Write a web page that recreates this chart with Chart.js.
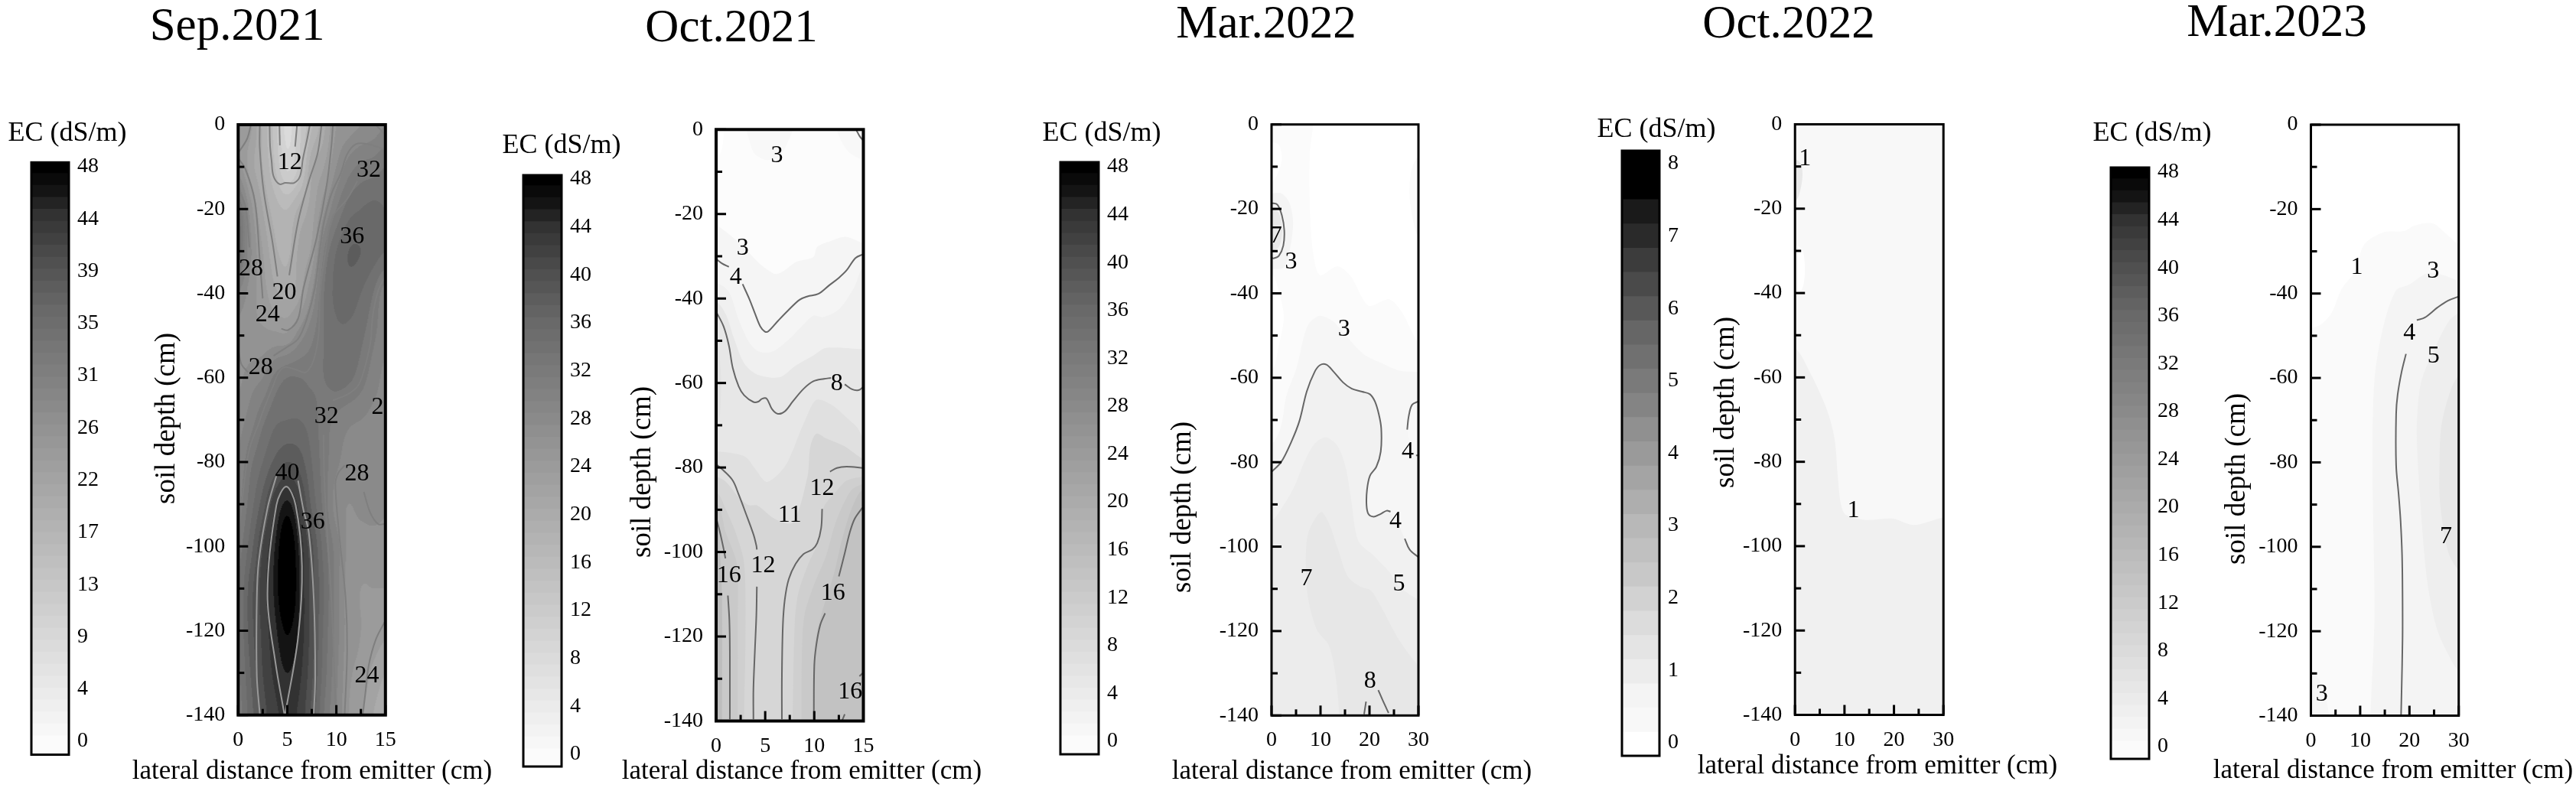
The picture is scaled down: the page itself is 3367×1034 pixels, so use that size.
<!DOCTYPE html>
<html>
<head>
<meta charset="utf-8">
<title>EC profiles</title>
<script src="https://cdn.jsdelivr.net/npm/chart.js@4/dist/chart.umd.js"></script>
<style>
    html, body { margin: 0; background: #fff; }
    canvas { position: absolute; left: 0; top: 0; }
</style>
</head>
<body>
<div id="page"></div>
<script>
const pageW = 3367
const pageH = 1034
const serif = '"Liberation Serif", "Times New Roman", serif'

const monthTitles = ['Sep.2021', 'Oct.2021', 'Mar.2022', 'Oct.2022', 'Mar.2023']
const xAxisName = 'lateral distance from emitter (cm)'
const yAxisName = 'soil depth (cm)'
const barName = 'EC (dS/m)'

// colorbar tick labels, bottom to top
const barTicks11 = ['0', '4', '9', '13', '17', '22', '26', '31', '35', '39', '44', '48']
const barTicks48 = ['0', '4', '8', '12', '16', '20', '24', '28', '32', '36', '40', '44', '48']
const barTicks8 = ['0', '1', '2', '3', '4', '5', '6', '7', '8']

// gray of the 48 dS/m colour scale
const grayStops = [[0, 251], [12, 203], [24, 155], [36, 105], [40, 80], [44, 50], [46, 20], [48, 0]]
const barLevels48 = [0, 1, 2, 3, 4, 5, 6, 7, 8, 9, 10, 11, 12, 13, 14, 15, 16, 17, 18, 19, 20, 21, 22, 23, 24,
    25, 26, 27, 28, 29, 30, 31, 32, 33, 34, 35, 36, 37, 38, 39, 40, 41, 42, 43, 44, 45, 46, 47, 48]
// the Oct.2022 bar has 25 visible steps
const barGrays8 = [255, 248, 244, 236, 228, 220, 210, 200, 192, 184, 174, 164, 154, 144, 132, 122, 112, 102,
    88, 74, 60, 42, 26, 0, 0]

// Sep.2021 is read as a value grid, the bands are too many to trace
const sep21X = [0, 1.25, 2.5, 3.75, 5, 6.25, 7.5, 8.75, 10, 11.25, 12.5, 13.75, 15]
const sep21Depth = [0, -10, -20, -30, -40, -50, -60, -70, -80, -90, -100, -110, -120, -130, -140]
const sep21Ec = [
    [25, 23.5, 18.5, 14, 8, 12.5, 16.7, 20.5, 25, 26, 27, 27.8, 29],
    [26, 22, 19, 15, 10.5, 13.5, 20.5, 23, 27, 30, 31.5, 32, 33],
    [33, 26, 21, 18, 17, 19.5, 22, 26.5, 31, 34, 35, 35.5, 35],
    [34, 27.5, 23, 19.5, 18.5, 21.5, 23.5, 31, 35, 37, 37, 36, 35],
    [29, 26, 24, 21.5, 20.5, 22.5, 27, 33, 35.5, 36, 35, 33, 30],
    [26, 25.5, 25.5, 25.5, 25.5, 28, 30.5, 33, 34.5, 34.5, 33.5, 31.5, 29.5],
    [26.5, 28, 29, 31.5, 33, 33, 32.5, 33, 34, 33.5, 32, 30, 28.5],
    [28, 30, 32.5, 34.5, 35, 35, 34, 32, 30.5, 29.5, 29, 28.5, 28.5],
    [29.5, 32.5, 35, 37.5, 39, 38, 35, 32, 29.5, 28, 27.5, 28.5, 29],
    [30.5, 34, 38, 42.5, 45.5, 42, 36.5, 32.3, 28, 27, 27.5, 28, 27.5],
    [32, 36, 41, 45, 50, 44.5, 39.5, 34, 30, 26.5, 26, 26, 26],
    [33, 38, 42, 45.5, 51, 45, 40, 35, 30, 26, 25, 25, 25],
    [33, 38, 41.5, 44.5, 47.3, 44.5, 40, 34.5, 30, 26, 25, 24.5, 23.5],
    [32.5, 37, 41, 43.5, 45, 43.5, 39.5, 34, 29.5, 25.5, 24.5, 22.5, 21],
    [32, 36, 40, 42.5, 43.5, 42.5, 38.5, 33, 29, 25, 23.5, 21, 20]
]
const sep21Lines = [
    [4.2, 0, 4.25, -4.9],
    [6, 0, 5.8, -5.2],
    [3.2, 0, 3.25, -5, 3.4, -8.5, 3.6, -12.2, 4.2, -14.1, 4.8, -13.8, 5.7, -13.8, 6.3, -12.2, 6.6, -8, 7, -3.7, 7.3, 0],
    [2.2, 0, 2.2, -5.5, 2.6, -15.8, 3.5, -27.9, 4, -36],
    [8.5, 0, 8.1, -6.7, 7.2, -13.4, 6.1, -23, 5.2, -35.7],
    [9.65, 0, 9.5, -4.9, 9, -14.6, 8, -26.7, 6.65, -38.8, 6.1, -46, 5.1, -48.7, 4.4, -48.4],
    [14.9, -5.8, 13.2, -4.6, 12, -4.6, 11.1, -7, 10.45, -11.5, 9.5, -16.4, 8.75, -23, 8.35, -29.1, 7.8, -38.8, 7, -46, 6.1, -50.8, 4.8, -53, 3.6, -54.8],
    [12.15, -13.4, 11.1, -17.6, 9.65, -21.8, 9, -28.5, 8.35, -40, 8.2, -49.6, 7.7, -55.7, 6.9, -58.7, 5.9, -58.1, 4.8, -57.5, 4.15, -58.7, 3.5, -62.3, 2.45, -68.4, 2.2, -70.2, 1.15, -76.9, 0.6, -85.3, 0.05, -96.8],
    [0, -6.7, 0.9, -3.4, 1.3, 0],
    [0, -7.9, 0.75, -10.6, 1.7, -18.2, 2.2, -32.1, 2.5, -41.2],
    [0.1, -15.8, 0.75, -19.4, 1.15, -29.1],
    [0.1, -18.2, 0.5, -21.8, 0.6, -26.7, 0.5, -31.5],
    [0.05, -53.9, 0.35, -56.9, 1, -58.7],
    [14, 0, 14.9, -2.2],
    [14.9, -36.3, 14.25, -39.4, 13.7, -45.4, 13.45, -52, 12.4, -61.1, 11.4, -63.6, 9.65, -65.4],
    [8.7, -73.5, 8.75, -82.3, 9, -94.4, 9.5, -112.5, 9.9, -136.7, 9.95, -139.7],
    [10.85, -80.8, 10.2, -82.6, 9.9, -85.3, 10.3, -97.4, 10.95, -112.5, 11.1, -124.6, 10.85, -139.7],
    [12.8, -87.1, 13.45, -92, 14.25, -94.7, 14.9, -94.7],
    [14.9, -118, 14, -122.2, 13.3, -128.2, 12.95, -134.9, 12.7, -139.7]
]
// these two ring the peak and show lighter
const sep21PeakLines = [
    [4.8, -139.7, 6.1, -121.6, 6.5, -104.7, 5.85, -90.2, 4.9, -85.8, 3.9, -90.2, 2.98, -111.3, 3.8, -127.6, 4.7, -139.7],
    [3.9, -83.2, 3, -90.8, 2.1, -103.5, 1.9, -112.5, 1.9, -130.7, 2.2, -139.7],
    [6.1, -84.4, 6.65, -91.4, 7.2, -96.8, 7.7, -112.5, 7.85, -130.7, 7.7, -139.7]
]
const sep21Labels = [['12', 5.25, -8.9], ['32', 13.3, -10.6], ['36', 11.6, -26.4], ['28', 1.3, -34], ['20', 4.7, -39.6],
    ['24', 3, -45], ['28', 2.3, -57.5], ['32', 9, -69], ['2', 14.2, -66.9], ['40', 5, -82.4], ['28', 12.1, -82.7],
    ['36', 7.6, -94.1], ['24', 13.1, -130.6]]

// the other months: band outlines, light to dark, closed outside the plot
const oct21Bands = [
    [-3, 3, 18, 3, 18, -150, -3, -150],
    [-2, 1, 0.6, 1, 0.7, -3, 0.3, -6, -2, -7],
    [3.1, 3, 3.1, 0, 3.4, -2.7, 3.9, -5.7, 5.1, -7.2, 6.5, -6.3, 7.3, -3, 7.8, 0, 7.8, 3],
    [12.3, 3, 12.3, 0, 12.8, -3, 13.6, -5.5, 15, -7.2, 18, -8, 18, 3],
    [-3, -150, -3, -22, 0, -22.7, 1, -24.2, 2.1, -26.3, 3.4, -29.3, 4.4, -31.7, 5.3, -33.3, 6.1, -34.2, 7, -33.3, 8.1, -31.4, 9.9, -30.2, 10.3, -27.8, 11.8, -26.3, 13.2, -25.4, 15, -26.9, 18, -28, 18, -150],
    [-3, -150, -3, -36, 0, -36.3, 1.3, -38.4, 2.3, -45, 3.4, -50.5, 4.4, -52.6, 5.7, -52.6, 7.3, -49.9, 8.6, -46.9, 9.9, -44.1, 10.9, -44.4, 12.5, -42.6, 14.1, -37.2, 15, -32.6, 18, -30, 18, -150],
    [-3, -150, -3, -40, 0, -40.8, 1, -43.8, 1.8, -49.3, 2.85, -55.3, 4.2, -58, 6.5, -58.6, 8.1, -55.9, 9.9, -53.5, 11.2, -51.7, 15, -52, 18, -52, 18, -150],
    [-3, -50, 0, -50, 0.4, -55, 0.5, -62, 0, -70, -3, -70],
    [-3, -150, -3, -76, 0, -76.2, 1.4, -76.5, 3, -77.5, 4, -80.4, 5.1, -83.4, 6.2, -81.9, 7.3, -78.6, 8.6, -71.3, 9.1, -68.6, 10.2, -64, 11.8, -65.2, 13.3, -68.2, 14.4, -70.6, 15, -73, 18, -78, 18, -150],
    [-3, -150, -3, -82, 0, -82.2, 1, -83.4, 2.3, -87, 3.3, -88.9, 4.2, -89, 6, -92.2, 7.8, -93, 9.3, -82.2, 9.6, -75, 10.2, -72, 11.2, -73.1, 13.1, -75, 15, -78, 18, -80, 18, -150],
    [-3, -150, -3, -85, 0, -85.8, 1, -90, 2.1, -96.1, 2.85, -102.7, 3, -117, 2.85, -139.6, 2.85, -150],
    [7.8, -150, 7.8, -139.6, 8, -117.3, 8.35, -110, 9.4, -102.8, 10.45, -97.3, 10.95, -89.5, 12.3, -85.5, 13.3, -83.1, 15, -82.2, 18, -82, 18, -150],
    [-3, -150, -3, -87, 0, -88.2, 1, -95.5, 2.1, -102.8, 2.2, -117, 2.2, -139.6, 2.2, -150],
    [8.7, -150, 8.7, -139.6, 8.75, -123.3, 9, -114.9, 9.9, -108.2, 11.2, -100.9, 12, -94.3, 12.8, -89.5, 13.85, -85.2, 15, -84, 18, -84, 18, -150],
    [9.9, -150, 9.9, -139.6, 10.05, -122.1, 10.7, -114.9, 12, -105.2, 12.8, -97.3, 13.85, -89.5, 15, -85.2, 18, -85, 18, -150],
    [-3, -150, -3, -93, 0, -93.1, 0.35, -99.1, 0.6, -111.2, 0.6, -139.6, 0.6, -150]
]
const oct21BandGrays = [252, 255, 248, 248, 245, 240, 231, 226, 224, 214, 207, 207, 201, 201, 194, 189]
const oct21Lines = [
    [0, -30.6, 0.6, -31.7, 1.3, -32.5],
    [2.7, -36.6, 3.4, -40.2, 4, -43.8, 4.5, -46.6, 4.95, -47.8, 5.3, -47.8, 6.3, -45.3, 7.3, -42.9, 8.5, -40.3, 9.3, -39.5, 10.4, -38.9, 11.5, -36.9, 12.5, -35.1, 13.3, -33.3, 14.2, -30.4, 15, -29.5],
    [14.3, -0.2, 14.6, -1.5, 15, -2.7],
    [0, -43.1, 0.76, -46.6, 1.3, -51.1, 1.7, -56.5, 2.3, -60.8, 2.85, -62.9, 3.8, -64.5, 4.3, -64.4, 4.7, -63.7, 5.15, -63.7, 5.7, -66.2, 6.3, -67.3, 7, -66.7, 7.8, -64.4, 8.9, -61.4, 9.9, -59.6, 11, -59, 11.7, -58.8],
    [13.1, -60.3, 13.85, -61.5, 14.5, -61.7, 15, -60.9],
    [0, -79.2, 0.75, -80.7, 1.7, -83.1, 2.3, -86.4, 3, -90.7, 3.8, -95.8, 4.1, -98.5, 4.15, -99.4],
    [4.15, -108.2, 4.1, -114.9, 3.95, -123.3, 3.8, -132.4, 3.8, -139.6],
    [0, -91.9, 0.35, -94.9, 0.75, -99.1, 0.95, -101.5],
    [1.2, -110.3, 1.35, -116.1, 1.4, -123.3, 1.4, -139.6],
    [11.6, -81, 12.3, -80.1, 13.3, -79.8, 15, -80.1],
    [10.8, -89.8, 10.7, -94.3, 10.3, -97.9, 9.8, -99.4, 8.9, -100.5, 8.1, -102.8, 7.4, -106.4, 7, -111.2, 6.8, -117.3, 6.7, -129.4, 6.7, -139.6],
    [14.9, -89.5, 14.1, -92.2, 13.6, -95.5, 13.1, -100.3, 12.5, -105.8],
    [11.1, -114.5, 10.6, -117.3, 10.2, -122.1, 10, -126.9, 9.95, -139.6],
    [15, -128.5, 14.6, -129.4],
    [13.1, -138.4, 12.85, -139.8]
]
const oct21Labels = [['3', 6.2, -6.1], ['3', 2.7, -28], ['4', 2, -34.9], ['8', 12.3, -59.9], ['12', 10.8, -84.8],
    ['11', 7.5, -91.1], ['12', 4.8, -103.1], ['16', 1.3, -105.4], ['16', 11.9, -109.6], ['16', 13.65, -133]]

const mar22Bands = [
    [-4, 4, 34, 4, 34, -150, -4, -150],
    [-4, 4, 8.5, 4, 8.5, 0, 7.8, -7, 7.8, -19, 8.5, -30.5, 9.9, -35.7, 13.5, -33.6, 16.2, -36, 19.8, -42.9, 24, -41.4, 26.6, -44.4, 30, -51.7, 34, -55, 34, -150, -4, -150],
    [34, -7, 30, -7.6, 28.5, -11.2, 28.2, -17.2, 29, -23.3, 30, -26.3, 34, -27],
    [-4, -4, 0, -4.2, 1.5, -4.8, 2.1, -8.2, 1.2, -11.8, 0, -13.6, -4, -14],
    [-4, -35, 0, -35.4, 1.5, -39.6, 2.5, -45.6, 1.5, -52.3, 0, -58.3, -4, -59],
    [-4, -150, -4, -76, 0, -75.6, 1.5, -73, 2.25, -69.8, 3, -64.4, 5.1, -57.7, 6.7, -49.9, 7.8, -46.9, 9.9, -45.3, 12.5, -46.6, 15.1, -49.9, 18.8, -54.4, 22.4, -56.5, 26.1, -58.3, 30, -58.6, 34, -59, 34, -150],
    [-4, -16, 0, -16.3, 2, -16.3, 3.6, -18.4, 4.4, -23.3, 3.6, -30.5, 2.5, -33.9, 0, -34.2, -4, -34],
    [-4, -20, 0, -20, 1.5, -21, 2.2, -25, 1.5, -29, 0, -30, -4, -30],
    [-4, -150, -4, -83, 0, -82.3, 2, -79.9, 4.1, -75, 5.7, -70.2, 7.2, -63.2, 8.8, -58.6, 9.9, -57, 11.2, -56.9, 12.7, -58.6, 14.6, -61.1, 16.4, -62.6, 18.5, -63.3, 20.1, -63.9, 21.1, -65.6, 21.9, -68.6, 22.4, -72, 22.3, -77.5, 21.4, -81.1, 20.1, -83.2, 19.5, -86.5, 19.4, -90.2, 19.8, -92.3, 20.9, -92.9, 22.2, -92.3, 23.5, -91.5, 25.5, -94, 27.2, -98.1, 28.2, -100.7, 30, -102.5, 34, -103, 34, -150],
    [34, -65, 30, -65.6, 28.7, -66.4, 28, -69.2, 27.7, -72.3, 28.5, -76, 30, -78.4, 34, -79],
    [-4, -150, -4, -94, 0, -93.8, 2, -91, 4.6, -85.9, 6.7, -79.9, 8.8, -75.6, 11.2, -74.1, 13.5, -76.2, 15.1, -81.1, 16.2, -88.3, 17.7, -98.6, 20.9, -102.2, 24, -105.9, 26.1, -109.5, 30, -112.5, 34, -114, 34, -150],
    [13.8, -150, 13.8, -139.7, 13, -130, 11.7, -123.4, 9.3, -119.8, 7.5, -112.5, 7, -104, 7.5, -96.8, 10.1, -91.8, 11.7, -94.4, 13.5, -100.4, 15.6, -107.1, 18.2, -109.5, 20.3, -110.4, 22.4, -114.3, 26.1, -122.2, 30, -128.2, 34, -132, 34, -150]
]
const mar22BandGrays = [255, 251, 250, 255, 255, 246, 244, 232, 241, 248, 236, 231]
const mar22Lines = [
    [0, -18.6, 1.2, -19, 2.1, -21.5, 2.6, -25.1, 2.4, -28.7, 1.5, -31.1, 0.5, -31.7, 0, -31.6],
    [0, -82.3, 2, -79.9, 4.1, -75, 5.7, -70.2, 7.2, -63.2, 8.8, -58.6, 9.9, -57, 11.2, -56.9, 12.7, -58.6, 14.6, -61.1, 16.4, -62.6, 18.5, -63.3, 20.1, -63.9, 21.1, -65.6, 21.9, -68.6, 22.4, -72, 22.3, -77.5, 21.4, -81.1, 20.1, -83.2, 19.5, -86.5, 19.4, -90.2, 19.8, -92.3, 20.9, -92.9, 22.2, -92.3, 23.5, -91.5, 24.3, -91.7],
    [27.2, -98.1, 28.2, -100.7, 30, -102.5],
    [30, -65.6, 28.7, -66.4, 28, -69.2, 27.7, -72.3],
    [29.5, -78.4, 30, -78.4],
    [21.8, -134, 22.7, -136.4, 23.9, -139.4],
    [19.3, -136.7, 18.9, -139.7]
]
const mar22Labels = [['7', 0.9, -26.2], ['3', 4, -32.4], ['3', 14.8, -48.3], ['4', 27.8, -77.4], ['4', 25.3, -93.8],
    ['7', 7.1, -107.5], ['5', 26, -108.7], ['8', 20.1, -131.7]]

const oct22Bands = [
    [-4, 4, 34, 4, 34, -150, -4, -150],
    [-4, -150, -4, -52, 0, -53, 3.1, -59, 6.4, -67.5, 8, -74.6, 8.7, -84.2, 9.3, -90.2, 10.3, -92.6, 14.2, -93.8, 19.8, -93.5, 24, -95, 30, -93.2, 34, -93, 34, -150],
    [-4, -8, 0, -8.3, 1.2, -9.4, 1.5, -12.4, 0.85, -16.6, 0, -18.2, -4, -18],
    [-4, -28, 0, -28.6, 1.5, -29.8, 2, -34.6, 1.5, -38.8, 0, -40.6, -4, -41]
]
const oct22BandGrays = [248, 240, 232, 255]
const oct22Labels = [['1', 2, -8], ['1', 11.8, -91.4]]

const mar23Bands = [
    [-4, 4, 34, 4, 34, -150, -4, -150],
    [-4, -150, -4, -49, 0, -48.2, 2.1, -47.3, 4.2, -44.6, 6.3, -38.8, 9, -34.7, 10.8, -28.4, 14.7, -25.5, 18.9, -25.2, 21, -23.9, 24.7, -23.4, 27.3, -25.7, 30, -28.4, 34, -30, 34, -150],
    [12.1, -150, 12.1, -140, 12.9, -116.3, 12.5, -80.3, 12.9, -60.4, 14.7, -47.8, 17.3, -39.2, 19.9, -37.9, 23.6, -35.2, 26.8, -35.6, 30, -37, 34, -38, 34, -150],
    [-4, -150, -4, -129, 0, -129.4, 2.1, -132.5, 3.7, -140, 3.9, -150],
    [34, -43, 30, -44.6, 27.8, -46.9, 24.7, -54.1, 22.3, -61.3, 21.5, -71.2, 21.8, -82.1, 23.1, -102.8, 24.1, -111.8, 25.7, -119.9, 27.8, -125.3, 30, -129.4, 34, -132],
    [34, -57, 30, -59.5, 28.3, -63.1, 26.5, -71.2, 26.1, -80.3, 26.2, -89.3, 27.8, -101, 30, -105.5, 34, -108]
]
const mar23BandGrays = [255, 250, 244, 246, 238, 231]
const mar23Lines = [
    [21.5, -46.3, 23.1, -45.7, 25.7, -43.3, 27.8, -41.7, 30, -40.7],
    [19.3, -54.3, 18.4, -58.6, 17.6, -64, 17.3, -68.5, 17.3, -80.7, 17.8, -87.5, 18.2, -93.8, 18.5, -101.9, 18.6, -111.8, 18.6, -121.7, 18.4, -134.4, 18.3, -139.8]
]
const mar23Labels = [['1', 9.3, -33.7], ['3', 24.8, -34.6], ['4', 20, -49.3], ['5', 24.9, -54.7], ['7', 27.4, -97.4], ['3', 2.2, -134.8]]

// page positions
const panels = [
    {
        title: monthTitles[0], titleAt: [310, 36], barNameAt: [88, 175], yNameAt: [218, 547], xNameAt: [408, 1009],
        plot: [311.3, 503.8, 163, 934.7], frame: 4, xMax: 15, xStep: 2.5, xLabelEvery: 5,
        grid: {x: sep21X, y: sep21Depth, z: sep21Ec}, bands: [], bandGrays: [],
        lines: sep21Lines, lineColor: '#7f7f7f', peakLines: sep21PeakLines, labels: sep21Labels,
        bar: [41, 90, 212.3, 986.5], barLabel0: 969, barLabelTop: 218, barTicks: barTicks11, barMax: 48
    },
    {
        title: monthTitles[1], titleAt: [956, 38], barNameAt: [734, 191], yNameAt: [840, 617], xNameAt: [1048, 1009],
        plot: [936, 1128.5, 169.3, 942.5], frame: 4, xMax: 15, xStep: 2.5, xLabelEvery: 5,
        bands: oct21Bands, bandGrays: oct21BandGrays,
        lines: oct21Lines, lineColor: '#666', peakLines: [], labels: oct21Labels,
        bar: [684, 734, 229, 1002], barLabel0: 986, barLabelTop: 234, barTicks: barTicks48, barMax: 48
    },
    {
        title: monthTitles[2], titleAt: [1655, 33], barNameAt: [1440, 175], yNameAt: [1546, 663], xNameAt: [1767, 1009],
        plot: [1662, 1854, 162.7, 935.3], frame: 3, xMax: 30, xStep: 5, xLabelEvery: 10,
        bands: mar22Bands, bandGrays: mar22BandGrays,
        lines: mar22Lines, lineColor: '#666', peakLines: [], labels: mar22Labels,
        bar: [1386, 1436, 212, 986], barLabel0: 969, barLabelTop: 218, barTicks: barTicks48, barMax: 48
    },
    {
        title: monthTitles[3], titleAt: [2338, 33], barNameAt: [2165, 170], yNameAt: [2256, 526], xNameAt: [2454, 1002],
        plot: [2346.2, 2540.2, 162.5, 934.5], frame: 3, xMax: 30, xStep: 5, xLabelEvery: 10,
        bands: oct22Bands, bandGrays: oct22BandGrays,
        lines: [], lineColor: '#666', peakLines: [], labels: oct22Labels,
        bar: [2120, 2169, 197, 988], barLabel0: 971, barLabelTop: 214, barTicks: barTicks8, barMax: 8, barGrays: barGrays8
    },
    {
        title: monthTitles[4], titleAt: [2976, 31], barNameAt: [2813, 175], yNameAt: [2924, 626], xNameAt: [3128, 1008],
        plot: [3020.5, 3213.7, 163, 935.5], frame: 3, xMax: 30, xStep: 5, xLabelEvery: 10,
        bands: mar23Bands, bandGrays: mar23BandGrays,
        lines: mar23Lines, lineColor: '#666', peakLines: [], labels: mar23Labels,
        bar: [2759, 2809, 219, 992], barLabel0: 976, barLabelTop: 225, barTicks: barTicks48, barMax: 48
    }
]

function grayOf(v) {
    if (v <= grayStops[0][0]) return grayStops[0][1]
    for (let i = 1; i < grayStops.length; i++) {
        if (v <= grayStops[i][0]) {
            const a = grayStops[i - 1]
            const b = grayStops[i]
            return a[1] + (b[1] - a[1]) * (v - a[0]) / (b[0] - a[0])
        }
    }
    return 0
}

function css(g) {
    const n = Math.round(g)
    return 'rgb(' + n + ',' + n + ',' + n + ')'
}

function toPoints(flat) {
    const pts = []
    for (let i = 0; i < flat.length; i += 2) pts.push({x: flat[i], y: flat[i + 1]})
    return pts
}

function catmull(p0, p1, p2, p3, t) {
    return 0.5 * (2 * p1 + (p2 - p0) * t + (2 * p0 - 5 * p1 + 4 * p2 - p3) * t * t + (3 * p1 - p0 - 3 * p2 + p3) * t * t * t)
}

function gridValue(grid, x, y) {
    const nx = grid.x.length
    const ny = grid.y.length
    const fx = Math.max(0, Math.min(nx - 1.001, (x - grid.x[0]) / (grid.x[1] - grid.x[0])))
    const fy = Math.max(0, Math.min(ny - 1.001, (y - grid.y[0]) / (grid.y[1] - grid.y[0])))
    const ix = Math.floor(fx)
    const iy = Math.floor(fy)
    const rows = []
    for (let j = -1; j <= 2; j++) {
        const row = grid.z[Math.max(0, Math.min(ny - 1, iy + j))]
        rows.push(catmull(row[Math.max(0, ix - 1)], row[ix], row[Math.min(nx - 1, ix + 1)], row[Math.min(nx - 1, ix + 2)], fx - ix))
    }
    return catmull(rows[0], rows[1], rows[2], rows[3], fy - iy)
}

// paints a value grid through the chart's scales, in 2 dS/m steps
const gridPlugin = {
    id: 'gridFill',
    beforeDatasetsDraw(chart) {
        const grid = chart.options.plugins.gridFill.grid
        if (!grid) return
        const area = chart.chartArea
        const w = Math.ceil(area.width)
        const h = Math.ceil(area.height)
        const off = document.createElement('canvas')
        off.width = w
        off.height = h
        const octx = off.getContext('2d')
        const img = octx.createImageData(w, h)
        for (let py = 0; py < h; py++) {
            const y = chart.scales.y.getValueForPixel(area.top + py + 0.5)
            for (let px = 0; px < w; px++) {
                const x = chart.scales.x.getValueForPixel(area.left + px + 0.5)
                const g = grayOf(Math.round(gridValue(grid, x, y) / 2) * 2)
                const k = (py * w + px) * 4
                img.data[k] = g
                img.data[k + 1] = g
                img.data[k + 2] = g
                img.data[k + 3] = 255
            }
        }
        octx.putImageData(img, 0, 0)
        chart.ctx.drawImage(off, area.left, area.top)
    }
}

// fills a dataset's own line path when it is a band outline
const bandPlugin = {
    id: 'bandFill',
    beforeDatasetDraw(chart, args) {
        const ds = chart.data.datasets[args.index]
        if (!ds.bandColor) return
        const area = chart.chartArea
        const ctx = chart.ctx
        ctx.save()
        ctx.beginPath()
        ctx.rect(area.left, area.top, area.width, area.height)
        ctx.clip()
        ctx.beginPath()
        args.meta.dataset.path(ctx)
        ctx.closePath()
        ctx.fillStyle = ds.bandColor
        ctx.fill()
        ctx.restore()
    }
}

// frame, inward ticks, contour labels and the free standing texts
const framePlugin = {
    id: 'plotFrame',
    afterDatasetsDraw(chart) {
        const o = chart.options.plugins.plotFrame
        const area = chart.chartArea
        const ctx = chart.ctx
        ctx.save()
        ctx.fillStyle = '#000'
        ctx.font = '32px ' + serif
        ctx.textAlign = 'center'
        ctx.textBaseline = 'middle'
        ;(o.labels || []).forEach((l) => {
            ctx.fillText(l[0], chart.scales.x.getPixelForValue(l[1]), chart.scales.y.getPixelForValue(l[2]) + 1)
        })
        if (o.ticks) {
            ctx.fillStyle = '#000'
            chart.scales.x.ticks.forEach((t) => {
                const major = t.value % o.xLabelEvery === 0
                const len = major ? 13 : 8
                ctx.fillRect(chart.scales.x.getPixelForValue(t.value) - 1.5, area.bottom - len, 3, len)
            })
            chart.scales.y.ticks.forEach((t) => {
                const major = t.value % 20 === 0
                const len = major ? 13 : 8
                ctx.fillRect(area.left, chart.scales.y.getPixelForValue(t.value) - 1.5, len, 3)
            })
        }
        ctx.strokeStyle = '#000'
        ctx.lineWidth = o.frame
        ctx.strokeRect(area.left, area.top, area.width, area.height)
        ctx.restore()
    },
    afterDraw(chart) {
        const texts = chart.options.plugins.plotFrame.texts || []
        const ctx = chart.ctx
        ctx.save()
        ctx.fillStyle = '#000'
        ctx.textAlign = 'center'
        ctx.textBaseline = 'middle'
        texts.forEach((t) => {
            ctx.save()
            ctx.font = t.size + 'px ' + serif
            ctx.translate(t.at[0], t.at[1])
            if (t.up) ctx.rotate(-Math.PI / 2)
            ctx.fillText(t.text, 0, 0)
            ctx.restore()
        })
        ctx.restore()
    }
}

Chart.defaults.animation = false
Chart.defaults.responsive = false
Chart.defaults.devicePixelRatio = 1
Chart.defaults.plugins.legend.display = false
Chart.defaults.plugins.tooltip.enabled = false
Chart.defaults.font.family = serif

function addCanvas() {
    const c = document.createElement('canvas')
    c.width = pageW
    c.height = pageH
    document.querySelector('#page').appendChild(c)
    return c
}

function drawPlot(p) {
    const [left, right, top, bottom] = p.plot
    const yWidth = 70
    const xHeight = 50
    const datasets = []
    p.lines.forEach((l) => {
        datasets.push({data: toPoints(l), showLine: true, pointRadius: 0, borderColor: p.lineColor, borderWidth: 2, tension: 0.35, capBezierPoints: false, order: 0})
    })
    p.peakLines.forEach((l) => {
        datasets.push({data: toPoints(l), showLine: true, pointRadius: 0, borderColor: '#999', borderWidth: 2, tension: 0.35, capBezierPoints: false, order: 0})
    })
    p.bands.forEach((b, i) => {
        datasets.push({data: toPoints(b), showLine: true, pointRadius: 0, borderWidth: 0, borderColor: 'rgba(0,0,0,0)', tension: 0.3, capBezierPoints: false, bandColor: css(p.bandGrays[i]), order: p.bands.length - i})
    })
    new Chart(addCanvas(), {
        type: 'scatter',
        data: {datasets: datasets},
        options: {
            layout: {
                autoPadding: false,
                padding: {left: left - yWidth, right: pageW - right, top: top, bottom: pageH - bottom - xHeight}
            },
            scales: {
                x: {
                    type: 'linear', min: 0, max: p.xMax, grid: {display: false, drawTicks: false}, border: {display: false},
                    afterFit: (s) => { s.height = xHeight },
                    ticks: {
                        stepSize: p.xStep, autoSkip: false, maxRotation: 0, padding: 16, color: '#000',
                        font: {size: 28, family: serif},
                        callback: (v) => v % p.xLabelEvery === 0 ? String(v) : ''
                    }
                },
                y: {
                    type: 'linear', min: -140, max: 0, grid: {display: false, drawTicks: false}, border: {display: false},
                    afterFit: (s) => { s.width = yWidth },
                    ticks: {
                        stepSize: 10, autoSkip: false, padding: 17, color: '#000',
                        font: {size: 28, family: serif},
                        callback: (v) => v % 20 === 0 ? String(v) : ''
                    }
                }
            },
            plugins: {
                gridFill: {grid: p.grid},
                plotFrame: {
                    labels: p.labels, ticks: true, xLabelEvery: p.xLabelEvery, frame: p.frame,
                    texts: [
                        {text: p.title, at: p.titleAt, size: 61},
                        {text: barName, at: p.barNameAt, size: 36},
                        {text: xAxisName, at: p.xNameAt, size: 35},
                        {text: yAxisName, at: p.yNameAt, size: 37, up: true}
                    ]
                }
            }
        },
        plugins: [gridPlugin, bandPlugin, framePlugin]
    })
}

function drawBar(p) {
    const [left, right, top, bottom] = p.bar
    const unitPx = (p.barLabel0 - p.barLabelTop) / p.barMax
    const yMin = -(bottom - p.barLabel0) / unitPx
    const yMax = p.barMax + (p.barLabelTop - top) / unitPx
    const scaleWidth = 60
    const datasets = []
    if (p.barGrays) {
        const step = (yMax - yMin) / p.barGrays.length
        p.barGrays.forEach((g, i) => {
            datasets.push({data: [[yMin + i * step, yMin + (i + 1) * step + 0.02]], backgroundColor: css(g), order: p.barGrays.length - i})
        })
    } else {
        barLevels48.forEach((v, i) => {
            const lo = i === 0 ? yMin : v - 0.5
            const hi = i === barLevels48.length - 1 ? yMax : v + 0.6
            datasets.push({data: [[lo, hi]], backgroundColor: css(grayOf(v)), order: barLevels48.length - i})
        })
    }
    new Chart(addCanvas(), {
        type: 'bar',
        data: {labels: [barName], datasets: datasets},
        options: {
            barPercentage: 1,
            categoryPercentage: 1,
            layout: {
                autoPadding: false,
                padding: {left: left, right: pageW - right - scaleWidth, top: top, bottom: pageH - bottom}
            },
            scales: {
                x: {display: false, stacked: true},
                y: {
                    position: 'right', min: yMin, max: yMax, grid: {display: false, drawTicks: false}, border: {display: false},
                    afterFit: (s) => { s.width = scaleWidth },
                    afterBuildTicks: (s) => {
                        s.ticks = p.barTicks.map((t, i) => ({value: i * p.barMax / (p.barTicks.length - 1)}))
                    },
                    ticks: {
                        autoSkip: false, padding: 11, color: '#000', font: {size: 28, family: serif},
                        callback: (v, i) => p.barTicks[i]
                    }
                }
            },
            plugins: {plotFrame: {frame: 3}}
        },
        plugins: [framePlugin]
    })
}

panels.forEach((p) => {
    drawBar(p)
    drawPlot(p)
})
</script>
</body>
</html>
